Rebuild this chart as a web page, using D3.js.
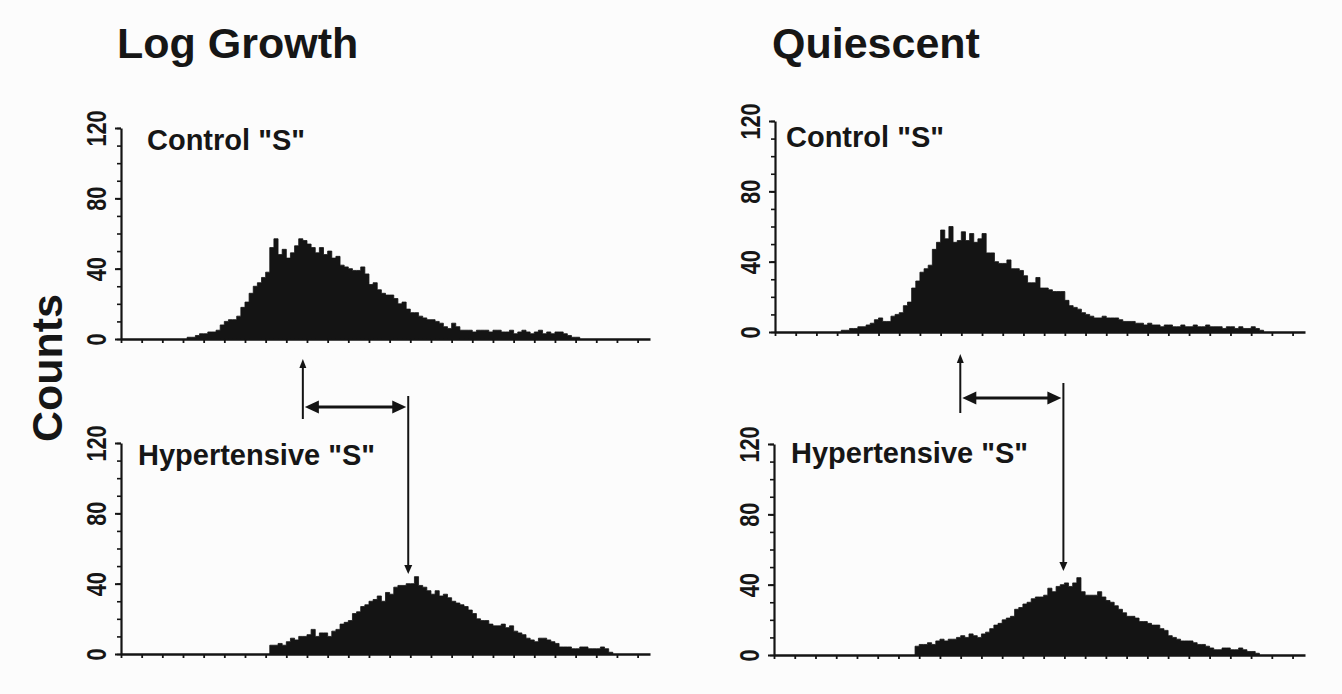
<!DOCTYPE html>
<html>
<head>
<meta charset="utf-8">
<script src="https://cdn.jsdelivr.net/npm/d3@7"></script>
<style>
body { margin: 0; background: #fcfcfc; }
text { font-family: "Liberation Sans", Arial, sans-serif; font-weight: bold; fill: #161616; }
</style>
</head>
<body>
<svg width="1342" height="694"></svg>
<script>
// histogram counts, one value per 2-channel bin
var binWidth = 2;
var lgControlStart = 32;
var lgControl = [1,1,2,3,3,4,4,5,8,10,11,11,13,18,21,26,30,32,35,38,52,57,48,51,46,49,53,57,56,54,52,49,52,48,50,46,47,42,41,40,39,39,41,37,31,32,28,26,25,25,23,20,21,17,15,15,13,12,11,11,10,9,7,6,9,7,5,5,5,4,5,5,5,4,5,5,4,4,5,3,4,5,4,3,4,5,3,4,3,4,4,3,2,1,1];
var lgHyperStart = 72;
var lgHyper = [5,5,6,5,7,9,8,10,10,11,14,10,12,12,10,13,14,17,18,19,23,24,27,28,30,31,33,30,35,34,38,39,39,40,40,44,39,38,36,34,36,33,34,32,30,29,28,27,25,23,20,19,19,17,16,16,17,15,16,13,12,11,9,8,7,9,9,8,7,6,4,4,4,3,3,4,4,3,3,3,4,3,1];
var qControlStart = 32;
var qControl = [1,1,2,2,3,3,4,5,7,8,6,6,9,10,11,15,17,25,29,34,36,38,47,51,58,53,60,51,52,57,52,56,51,53,56,45,45,40,39,39,41,36,36,35,32,28,28,31,25,25,24,23,23,23,18,15,14,13,11,10,9,8,8,9,8,8,8,7,6,6,6,5,5,4,5,4,4,3,4,4,3,3,4,3,3,4,3,3,4,3,3,3,2,3,3,2,3,2,2,3,2,1];
var qHyperStart = 68;
var qHyper = [5,6,6,7,6,8,9,8,9,9,10,11,10,12,11,10,12,13,15,17,18,20,21,22,26,27,29,30,32,33,33,34,38,36,39,40,41,39,41,44,36,34,34,34,36,33,31,30,28,26,24,22,22,21,19,19,18,17,17,15,14,11,10,9,8,8,8,7,6,6,5,4,3,3,4,4,3,3,4,3,2,2,1];

var yTickLabels = [0, 40, 80, 120];
var columnTitles = ["Log Growth", "Quiescent"];
var rowLabels = ['Control "S"', 'Hypertensive "S"'];
// peak channels marked by the arrows (control, hypertensive)
var lgPeaks = [88, 139];
var qPeaks = [89.5, 139.3];

var svg = d3.select("svg");
svg.append("rect").attr("width", 1342).attr("height", 694).attr("fill", "#fcfcfc");

var ink = "#141414";

var panels = [
    { x0: 121, x1: 650, y0: 339, y1: 128, data: lgControl, start: lgControlStart, label: rowLabels[0], lx: 147, ly: 150 },
    { x0: 121, x1: 650, y0: 654, y1: 443, data: lgHyper, start: lgHyperStart, label: rowLabels[1], lx: 138, ly: 465 },
    { x0: 775, x1: 1305, y0: 332, y1: 121, data: qControl, start: qControlStart, label: rowLabels[0], lx: 786, ly: 147 },
    { x0: 774, x1: 1305, y0: 655, y1: 444, data: qHyper, start: qHyperStart, label: rowLabels[1], lx: 791, ly: 463 }
];

panels.forEach(function(p) {
    p.x = d3.scaleLinear().domain([0, 256]).range([p.x0, p.x1]);
    p.y = d3.scaleLinear().domain([0, 120]).range([p.y0, p.y1]);

    var pts = p.data.map(function(c, i) {
        return { ch: p.start + i * binWidth, c: c };
    });
    pts.push({ ch: p.start + p.data.length * binWidth, c: 0 });

    var area = d3.area()
        .x(function(d) { return p.x(d.ch); })
        .y0(p.y(0))
        .y1(function(d) { return p.y(d.c); })
        .curve(d3.curveStepAfter);

    svg.append("path")
        .datum(pts)
        .attr("d", area)
        .attr("fill", ink)
        .attr("stroke", ink)
        .attr("stroke-width", 0.8);

    // x axis: baseline with small ticks, no labels
    var gx = svg.append("g")
        .attr("transform", "translate(0," + p.y(0) + ")")
        .call(d3.axisBottom(p.x).tickValues(d3.range(0, 257, 10)).tickSize(4).tickSizeOuter(0).tickFormat(""));
    gx.select(".domain").attr("stroke", ink).attr("stroke-width", 2.6);
    gx.selectAll(".tick line").attr("stroke", ink).attr("stroke-width", 1.8);

    // y axis minor ticks
    var gy = svg.append("g")
        .attr("transform", "translate(" + p.x0 + ",0)")
        .call(d3.axisLeft(p.y).tickValues(d3.range(0, 121, 10)).tickSize(4).tickSizeOuter(0).tickFormat(""));
    gy.select(".domain").attr("stroke", ink).attr("stroke-width", 2.2);
    gy.selectAll(".tick line").attr("stroke", ink).attr("stroke-width", 1.6);

    // major ticks with rotated labels
    var gm = svg.append("g")
        .attr("transform", "translate(" + p.x0 + ",0)")
        .call(d3.axisLeft(p.y).tickValues(yTickLabels).tickSize(6).tickSizeOuter(0));
    gm.select(".domain").remove();
    gm.selectAll(".tick line").attr("stroke", ink).attr("stroke-width", 2);
    gm.selectAll(".tick text")
        .attr("x", 0)
        .attr("dy", 0)
        .attr("text-anchor", "middle")
        .attr("transform", "translate(-15,0) rotate(-90) scale(0.8,1)")
        .style("font-size", "27px")
        .style("font-family", '"Liberation Sans", Arial, sans-serif')
        .style("font-weight", "bold")
        .attr("fill", "#161616");

    svg.append("text")
        .attr("x", p.lx)
        .attr("y", p.ly)
        .style("font-size", "29px")
        .text(p.label);
});

// column titles and shared y label
svg.append("text").attr("x", 117).attr("y", 58).style("font-size", "43px").text(columnTitles[0]);
svg.append("text").attr("x", 772).attr("y", 58).style("font-size", "43px").text(columnTitles[1]);
svg.append("text")
    .attr("transform", "translate(62,368) rotate(-90)")
    .attr("text-anchor", "middle")
    .style("font-size", "43px")
    .text("Counts");

// arrows marking the peak shift
function head(x, y, dir, len, half) {
    var pts;
    if (dir == "up") pts = [[x, y], [x - half, y + len], [x + half, y + len]];
    if (dir == "down") pts = [[x, y], [x - half, y - len], [x + half, y - len]];
    if (dir == "left") pts = [[x, y], [x + len, y - half], [x + len, y + half]];
    if (dir == "right") pts = [[x, y], [x - len, y - half], [x - len, y + half]];
    svg.append("path").attr("d", "M" + pts.join("L") + "Z").attr("fill", ink);
}

function shiftArrows(xs, peaks, upTop, upBottom, midY, downTop, downTip) {
    var a = xs(peaks[0]), b = xs(peaks[1]);
    svg.append("line").attr("x1", a).attr("x2", a).attr("y1", upTop + 6).attr("y2", upBottom)
        .attr("stroke", ink).attr("stroke-width", 2);
    head(a, upTop, "up", 9, 3.5);

    svg.append("line").attr("x1", a + 12).attr("x2", b - 12).attr("y1", midY).attr("y2", midY)
        .attr("stroke", ink).attr("stroke-width", 3);
    head(a + 2, midY, "left", 14, 6.5);
    head(b - 2, midY, "right", 14, 6.5);

    svg.append("line").attr("x1", b).attr("x2", b).attr("y1", downTop).attr("y2", downTip - 6)
        .attr("stroke", ink).attr("stroke-width", 2);
    head(b, downTip, "down", 9, 4);
}

shiftArrows(panels[0].x, lgPeaks, 359, 419, 407, 396, 574);
shiftArrows(panels[2].x, qPeaks, 354, 413, 398, 383, 571);
</script>
</body>
</html>
